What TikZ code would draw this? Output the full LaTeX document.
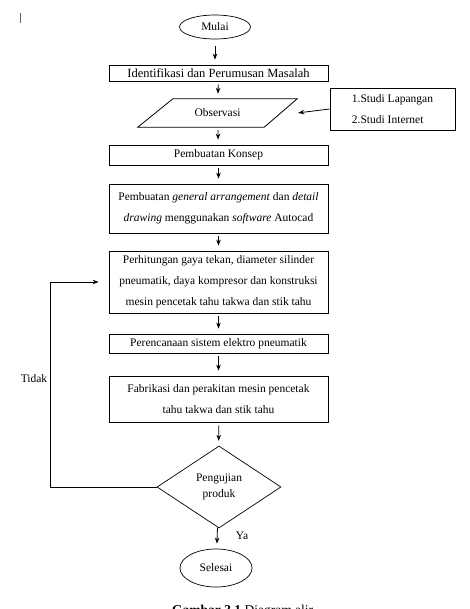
\documentclass[tikz,border=0pt]{standalone}
\usepackage{fontspec}
\setmainfont{Liberation Serif}
\usetikzlibrary{shapes.geometric,arrows.meta}
\begin{document}
\begin{tikzpicture}[x=1pt,y=-1pt,
  every node/.style={font=\fontsize{11.5}{21}\selectfont, inner sep=0pt},
  box/.style={draw, line width=0.8pt, rectangle, minimum width=219pt, align=center},
  oval/.style={draw, line width=0.7pt, ellipse},
  arr/.style={-{Stealth[length=6pt,width=4.5pt]}, line width=0.8pt, shorten <=3pt, shorten >=5pt},
  ln/.style={line width=0.8pt}]
\useasboundingbox (0,0) rectangle (470,609);
\draw[line width=1pt, gray!80!black] (20,13) -- (20,23);
\node[oval, minimum width=71pt, minimum height=24pt] (mulai) at (215,27) {Mulai};
\node[box, minimum height=16pt, font=\fontsize{12.5}{21}\selectfont] (b1) at (218.5,73) {Identifikasi dan Perumusan Masalah};
\node[minimum width=159pt, minimum height=28pt] (obs) at (217.5,113) {Observasi};
\draw[line width=0.8pt] (obs.south west) -- ([xshift=35pt]obs.north west) -- (obs.north east) -- ([xshift=-33pt]obs.south east) -- cycle;
\node[draw, line width=0.8pt, minimum width=125pt, minimum height=42pt, align=left] (studi) at (392.5,109) {1.Studi Lapangan\\2.Studi Internet};
\node[box, minimum height=20pt] (b2) at (218.5,155) {Pembuatan Konsep};
\node[box, minimum height=49pt] (b3) at (218.5,208.5) {Pembuatan \textit{general arrangement} dan \textit{detail}\\\textit{drawing} menggunakan \textit{software} Autocad};
\node[box, minimum height=62pt] (b4) at (218.5,282) {Perhitungan gaya tekan, diameter silinder\\pneumatik, daya kompresor dan konstruksi\\mesin pencetak tahu takwa dan stik tahu};
\node[box, minimum height=19pt] (b5) at (218.5,343.5) {Perencanaan sistem elektro pneumatik};
\node[box, minimum height=46pt] (b6) at (218.5,399) {Fabrikasi dan perakitan mesin pencetak\\tahu takwa dan stik tahu};
\node[draw, line width=0.7pt, diamond, aspect=1.51, minimum width=124pt, minimum height=82pt, align=center, font=\fontsize{11.5}{16}\selectfont] (dia) at (219,487) {Pengujian\\produk};
\node[oval, minimum width=72pt, minimum height=38pt] (selesai) at (216,568) {Selesai};
\node[anchor=center] (tidak) at (34,379) {Tidak};
\node[anchor=center] (ya) at (242,536) {Ya};
\node[anchor=base west, font=\fontsize{13.5}{16}\selectfont] (cap) at (172,614) {\textbf{Gambar 3.1} Diagram alir};
\coordinate (fb) at (50,487);
\draw[arr, shorten <=7pt] (mulai.south) -- (b1.north -| mulai.south);
\draw[arr] (b1) -- (obs);
\draw[arr] (obs) -- (b2);
\draw[arr] (b2) -- (b3);
\draw[arr] (b3) -- (b4);
\draw[arr] (b4) -- (b5);
\draw[arr] (b5) -- (b6);
\draw[arr] (b6) -- (dia);
\draw[arr, shorten <=0pt] (dia) -- (selesai);
\draw[arr, shorten <=0pt, shorten >=1pt] (studi.west) -- (obs.east);
\draw[arr, shorten <=0pt, shorten >=10pt] (dia.west) -- (fb) |- (b4.west);
\end{tikzpicture}
\end{document}
